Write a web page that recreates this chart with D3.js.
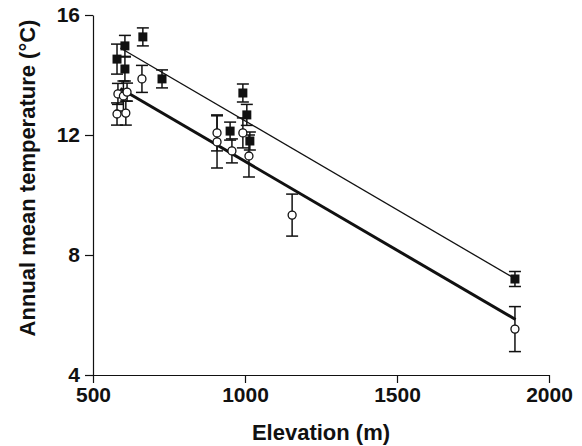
<!DOCTYPE html>
<html>
<head>
<meta charset="utf-8">
<script src="https://cdn.jsdelivr.net/npm/d3@7"></script>
<style>
	html, body { margin: 0; padding: 0; background: #fff; }
	svg { display: block; }
	.axis text { font-family: "Liberation Sans", Arial, sans-serif; font-weight: bold; font-size: 21px; fill: #111; }
	.axis path, .axis line { stroke: #111; stroke-width: 1.2px; }
	.axis-title { font-family: "Liberation Sans", Arial, sans-serif; font-weight: bold; font-size: 22px; fill: #111; }
</style>
</head>
<body>
<div id="chart"></div>
<script>
// filled squares
var filledElev = [579, 605, 605, 664, 727, 951, 993, 1006, 1016, 1888],
		filledTemp = [14.53, 14.97, 14.2, 15.27, 13.87, 12.13, 13.4, 12.67, 11.8, 7.2],
		filledErr  = [0.5, 0.35, 0.4, 0.3, 0.3, 0.3, 0.3, 0.35, 0.3, 0.25];

// open circles
var openElev = [579, 582, 600, 608, 612, 661, 908, 908, 957, 993, 1013, 1155, 1888],
		openTemp = [12.7, 13.37, 13.3, 12.73, 13.43, 13.87, 12.07, 11.77, 11.47, 12.07, 11.3, 9.33, 5.53],
		openErr  = [0.37, 0.35, 0.5, 0.4, 0.3, 0.45, 0.6, 0.87, 0.4, 0.5, 0.7, 0.7, 0.75];

// regression lines, end points
var fitElev = [590, 1890],
		filledFit = [14.9, 7.2],
		openFit = [13.55, 5.85];

var xTicks = [500, 1000, 1500, 2000],
		yTicks = [4, 8, 12, 16];

var width = 582,
		height = 446;

var svg = d3.select("#chart")
	.append("svg")
		.attr("width", width)
		.attr("height", height);

var x = d3.scaleLinear().domain([500, 2000]).range([93, 549]),
		y = d3.scaleLinear().domain([4, 16]).range([375, 15]);

var xAxis = d3.axisBottom(x).tickValues(xTicks).tickFormat(d3.format("d"))
			.tickSize(8).tickSizeOuter(0).tickPadding(4),
		yAxis = d3.axisLeft(y).tickValues(yTicks).tickFormat(d3.format("d"))
			.tickSize(8).tickSizeOuter(0).tickPadding(5);

svg.append("g")
		.attr("class", "axis axis--x")
		.attr("transform", "translate(0," + y(4) + ")")
		.call(xAxis);

svg.append("g")
		.attr("class", "axis axis--y")
		.attr("transform", "translate(" + x(500) + ",0)")
		.call(yAxis);

svg.append("text")
		.attr("class", "axis-title")
		.attr("x", (x(500) + x(2000)) / 2)
		.attr("y", 440)
		.attr("text-anchor", "middle")
		.text("Elevation (m)");

svg.append("text")
		.attr("class", "axis-title")
		.attr("transform", "translate(35,178) rotate(-90)")
		.attr("text-anchor", "middle")
		.text("Annual mean temperature (°C)");

function pairs(xs, ys) {
	return xs.map(function(d, i) { return [d, ys[i]]; });
}

var line = d3.line()
		.x(function(d) { return x(d[0]); })
		.y(function(d) { return y(d[1]); });

svg.append("path")
		.datum(pairs(fitElev, filledFit))
		.attr("d", line)
		.attr("fill", "none")
		.attr("stroke", "#111")
		.attr("stroke-width", 1.3);

svg.append("path")
		.datum(pairs(fitElev, openFit))
		.attr("d", line)
		.attr("fill", "none")
		.attr("stroke", "#111")
		.attr("stroke-width", 3);

function errorBars(cls, xs, ys, errs) {
	var data = xs.map(function(d, i) { return {x: d, y: ys[i], e: errs[i]}; });
	var g = svg.append("g").attr("class", cls);
	var cap = 6;
	g.selectAll("line.v")
		.data(data)
		.enter().append("line")
			.attr("class", "v")
			.attr("x1", function(d) { return x(d.x); })
			.attr("x2", function(d) { return x(d.x); })
			.attr("y1", function(d) { return y(d.y + d.e); })
			.attr("y2", function(d) { return y(d.y - d.e); });
	g.selectAll("line.top")
		.data(data)
		.enter().append("line")
			.attr("class", "top")
			.attr("x1", function(d) { return x(d.x) - cap; })
			.attr("x2", function(d) { return x(d.x) + cap; })
			.attr("y1", function(d) { return y(d.y + d.e); })
			.attr("y2", function(d) { return y(d.y + d.e); });
	g.selectAll("line.bot")
		.data(data)
		.enter().append("line")
			.attr("class", "bot")
			.attr("x1", function(d) { return x(d.x) - cap; })
			.attr("x2", function(d) { return x(d.x) + cap; })
			.attr("y1", function(d) { return y(d.y - d.e); })
			.attr("y2", function(d) { return y(d.y - d.e); });
	g.selectAll("line").attr("stroke", "#111").attr("stroke-width", 1.5);
	return data;
}

var filledData = errorBars("err-filled", filledElev, filledTemp, filledErr),
		openData = errorBars("err-open", openElev, openTemp, openErr);

svg.append("g")
	.selectAll("rect")
	.data(filledData)
	.enter().append("rect")
		.attr("x", function(d) { return x(d.x) - 4.5; })
		.attr("y", function(d) { return y(d.y) - 4.5; })
		.attr("width", 9)
		.attr("height", 9)
		.attr("fill", "#111");

svg.append("g")
	.selectAll("circle")
	.data(openData)
	.enter().append("circle")
		.attr("cx", function(d) { return x(d.x); })
		.attr("cy", function(d) { return y(d.y); })
		.attr("r", 4)
		.attr("fill", "#fff")
		.attr("stroke", "#111")
		.attr("stroke-width", 1.3);
</script>
</body>
</html>
